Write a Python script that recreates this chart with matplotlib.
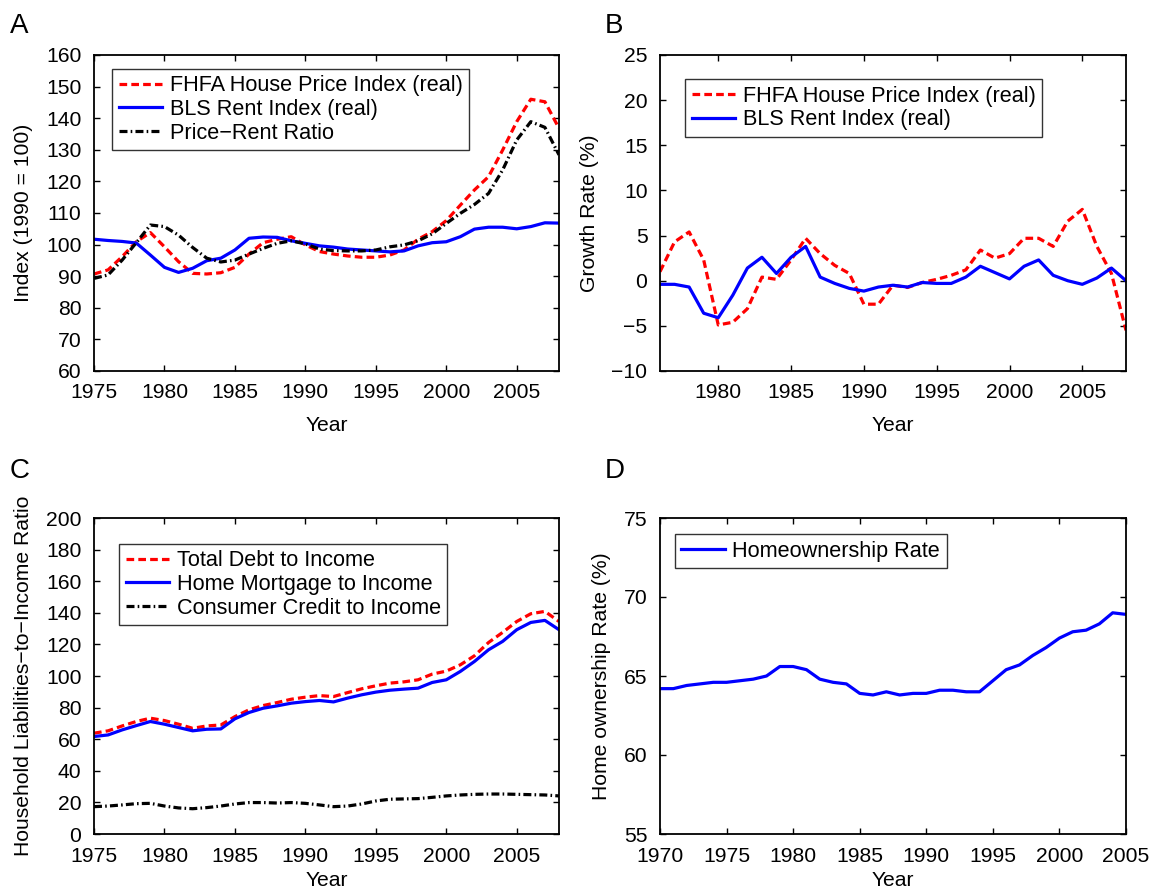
import numpy as np
import matplotlib
matplotlib.use("Agg")
import matplotlib.pyplot as plt

plt.rcParams['font.family'] = ['Liberation Sans', 'DejaVu Sans']
FS = 15.2
LEG_FS = 15.6
plt.rcParams['font.size'] = FS

# ---- Panel A: real price and rent indices (1990 = 100)
years_a = np.arange(1975, 2009)
fhfa_index = [90.7, 92.0, 96.2, 100.9, 103.8, 99.3, 94.6, 90.9, 90.7, 91.1,
              92.8, 97.0, 100.6, 101.7, 102.5, 99.9, 97.8, 97.0, 96.4, 96.0,
              96.0, 96.7, 98.3, 101.7, 104.1, 107.6, 112.5, 117.3, 121.5, 129.9,
              138.9, 146.0, 145.2, 136.8]
rent_index = [101.7, 101.3, 101.0, 100.5, 96.7, 92.8, 91.2, 92.5, 94.9, 95.7,
              98.3, 102.0, 102.4, 102.3, 101.2, 100.4, 99.6, 99.2, 98.6, 98.3,
              98.0, 97.7, 98.0, 99.6, 100.6, 100.9, 102.5, 104.9, 105.5, 105.5,
              105.0, 105.7, 106.9, 106.8]
price_rent = [89.3, 90.4, 95.1, 100.6, 106.2, 105.7, 103.0, 99.1, 95.7, 94.5,
              95.1, 97.0, 98.8, 100.4, 101.2, 100.2, 98.6, 98.1, 98.0, 98.0,
              98.3, 99.3, 99.9, 101.2, 103.4, 106.7, 109.9, 112.7, 116.2, 123.6,
              133.1, 138.9, 137.1, 128.4]

# ---- Panel B: annual growth rates (%)
years_b = np.arange(1976, 2009)
fhfa_growth = [1.0, 4.3, 5.4, 2.3, -4.9, -4.6, -3.1, 0.4, 0.15, 2.3,
               4.7, 3.0, 1.7, 0.8, -2.6, -2.6, -0.5, -0.75, -0.2, 0.15,
               0.6, 1.2, 3.4, 2.5, 3.0, 4.7, 4.7, 3.8, 6.6, 7.9,
               3.8, 0.8, -5.5]
rent_growth = [-0.4, -0.4, -0.7, -3.6, -4.1, -1.6, 1.4, 2.6, 0.8, 2.6,
               3.8, 0.4, -0.3, -0.85, -1.15, -0.7, -0.5, -0.7, -0.2, -0.3,
               -0.3, 0.4, 1.6, 0.9, 0.2, 1.6, 2.3, 0.6, 0.0, -0.4,
               0.3, 1.4, 0.0]

# ---- Panel C: household liabilities-to-income ratios
years_c = np.arange(1975, 2009)
total_debt = [63.8, 65.3, 68.4, 71.2, 73.3, 71.8, 69.5, 66.9, 68.4, 69.0,
              74.3, 78.6, 81.3, 83.2, 85.3, 86.6, 87.6, 87.0, 89.5, 91.9,
              93.8, 95.5, 96.3, 97.6, 101.2, 103.1, 107.1, 112.8, 121.2, 127.6,
              134.5, 139.4, 140.9, 134.5]
mortgage = [61.7, 62.7, 65.9, 68.6, 71.2, 69.5, 67.4, 65.3, 66.3, 66.5,
            72.9, 76.9, 79.6, 81.1, 82.8, 83.8, 84.5, 83.6, 86.0, 88.1,
            89.8, 91.0, 91.7, 92.3, 95.9, 97.6, 102.9, 109.2, 116.6, 121.9,
            129.3, 133.9, 135.2, 129.3]
consumer_credit = [17.3, 17.7, 18.4, 19.2, 19.4, 17.7, 16.5, 16.0, 16.7, 17.7,
                   19.0, 19.9, 19.9, 19.6, 19.9, 19.4, 18.4, 17.3, 17.7, 19.0,
                   20.9, 22.0, 22.2, 22.4, 23.2, 24.1, 24.7, 25.1, 25.3, 25.3,
                   25.1, 24.9, 24.7, 24.1]

# ---- Panel D: homeownership rate (%)
years_d = np.arange(1970, 2006)
homeownership = [64.2, 64.2, 64.4, 64.5, 64.6, 64.6, 64.7, 64.8, 65.0, 65.6,
                 65.6, 65.4, 64.8, 64.6, 64.5, 63.9, 63.8, 64.0, 63.8, 63.9,
                 63.9, 64.1, 64.1, 64.0, 64.0, 64.7, 65.4, 65.7, 66.3, 66.8,
                 67.4, 67.8, 67.9, 68.3, 69.0, 68.9]

RED = '#ff0000'
BLUE = '#0000ff'
LW = 2.3
DASH = (0, (2.4, 1.3))
DASHDOT = (0, (2.5, 1.0, 0.5, 1.0))

fig = plt.figure(figsize=(11.56, 8.96), dpi=100)
W, H = 1156.0, 896.0


def make_axes(l, t, r, b):
    return fig.add_axes([l / W, 1 - b / H, (r - l) / W, (b - t) / H])


def style(ax):
    ax.tick_params(direction='in', top=True, right=True, length=4, width=1,
                   labelsize=FS, pad=9)
    for s in ax.spines.values():
        s.set_linewidth(1.3)


def legend(ax, **kw):
    leg = ax.legend(fontsize=LEG_FS, frameon=True, fancybox=False, edgecolor='black',
                    handlelength=2.0, handletextpad=0.35, borderpad=0.3,
                    labelspacing=0.12, borderaxespad=0, **kw)
    leg.get_frame().set_linewidth(1.0)
    return leg


def labels(ax, ylabel, xpad=10):
    ax.set_xlabel('Year', fontsize=FS, labelpad=xpad)
    ax.set_ylabel(ylabel, fontsize=FS, labelpad=9)


# Panel A
axA = make_axes(94, 55, 559, 371)
axA.plot(years_a, fhfa_index, color=RED, lw=LW, ls=DASH, label='FHFA House Price Index (real)')
axA.plot(years_a, rent_index, color=BLUE, lw=LW, ls='-', label='BLS Rent Index (real)')
axA.plot(years_a, price_rent, color='black', lw=LW, ls=DASHDOT, label='Price\u2212Rent Ratio')
axA.set_xlim(1975, 2008)
axA.set_ylim(60, 160)
axA.set_xticks(np.arange(1975, 2006, 5))
axA.set_yticks(np.arange(60, 161, 10))
labels(axA, 'Index (1990 = 100)')
style(axA)
legend(axA, loc='upper left', bbox_to_anchor=(0.039, 0.956))

# Panel B
axB = make_axes(660, 55, 1126, 371)
axB.plot(years_b, fhfa_growth, color=RED, lw=LW, ls=DASH, label='FHFA House Price Index (real)')
axB.plot(years_b, rent_growth, color=BLUE, lw=LW, ls='-', label='BLS Rent Index (real)')
axB.set_xlim(1976, 2008)
axB.set_ylim(-10, 25)
axB.set_xticks(np.arange(1980, 2006, 5))
axB.set_yticks(np.arange(-10, 26, 5))
labels(axB, 'Growth Rate (%)')
style(axB)
legend(axB, loc='upper left', bbox_to_anchor=(0.054, 0.924))

# Panel C
axC = make_axes(94, 518, 559, 834)
axC.plot(years_c, total_debt, color=RED, lw=LW, ls=DASH, label='Total Debt to Income')
axC.plot(years_c, mortgage, color=BLUE, lw=LW, ls='-', label='Home Mortgage to Income')
axC.plot(years_c, consumer_credit, color='black', lw=LW, ls=DASHDOT, label='Consumer Credit to Income')
axC.set_xlim(1975, 2008)
axC.set_ylim(0, 200)
axC.set_xticks(np.arange(1975, 2006, 5))
axC.set_yticks(np.arange(0, 201, 20))
labels(axC, 'Household Liabilities\u2212to\u2212Income Ratio', xpad=4)
style(axC)
legend(axC, loc='upper left', bbox_to_anchor=(0.054, 0.918))

# Panel D
axD = make_axes(660, 518, 1126, 834)
axD.plot(years_d, homeownership, color=BLUE, lw=LW, ls='-', label='Homeownership Rate')
axD.set_xlim(1970, 2005)
axD.set_ylim(55, 75)
axD.set_xticks(np.arange(1970, 2006, 5))
axD.set_yticks(np.arange(55, 76, 5))
labels(axD, 'Home ownership Rate (%)', xpad=4)
style(axD)
legend(axD, loc='upper left', bbox_to_anchor=(0.032, 0.949))

# Panel letters
for x, y, s in [(10, 33, 'A'), (605, 33, 'B'), (10, 478, 'C'), (605, 478, 'D')]:
    fig.text(x / W, 1 - y / H, s, fontsize=20, ha='left', va='baseline')

fig.savefig('out.png', dpi=100)
